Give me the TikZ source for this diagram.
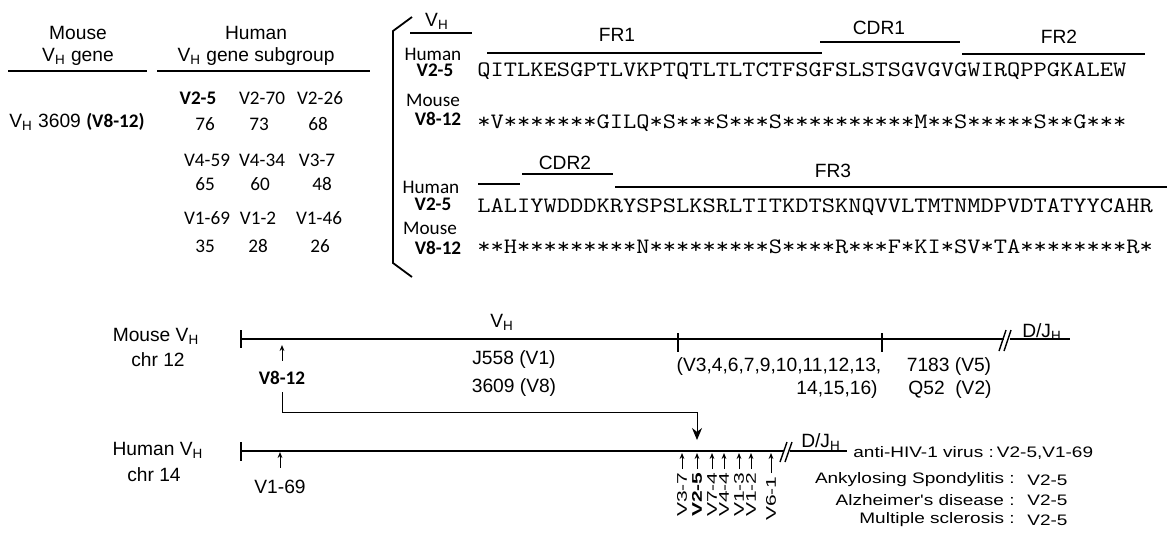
\documentclass[tikz,border=0pt]{standalone}
\usepackage{fontspec}
\setmainfont{Liberation Sans}
\newfontfamily\calfont{Carlito}
\usetikzlibrary{arrows.meta, positioning}
\newcommand{\VH}{V\textsubscript{H}}
\newcommand{\DJH}{D/J\textsubscript{H}}
\newcommand{\wide}[2][1.25]{\scalebox{#1}[1]{#2}}

\begin{document}
\begin{tikzpicture}[x=0.5pt, y=-0.5pt,
        lbl/.style={font=\fontsize{9.6}{11}\selectfont, inner sep=0pt},
        cal/.style={font=\calfont\fontsize{9.6}{11}\selectfont, inner sep=0pt},
        seq/.style={font=\ttfamily\fontsize{11}{13}\selectfont, inner sep=0pt, anchor=base west},
        dis/.style={font=\fontsize{7.6}{9}\selectfont, inner sep=0pt},
        vlab/.style={font=\fontsize{7}{8}\selectfont, inner sep=0pt, rotate=90, anchor=east},
        rule/.style={line width=0.9pt},
        chrom/.style={line width=1pt},
        tickarr/.style={-{Stealth[length=3pt, width=2.4pt]}, line width=0.5pt},
        bigarr/.style={-{Stealth[length=6pt, width=5pt]}, line width=0.6pt}
    ]
    \useasboundingbox (0,0) rectangle (1172,532);

        % TABLE
        \node[lbl] (mhead) at (78,33) {Mouse};
        \node[lbl] (mgene) at (78,57) {\VH{} gene};
        \node[lbl] (hhead) at (256,33) {Human};
        \node[lbl] (hgene) at (256,57) {\VH{} gene subgroup};
        \draw[rule] (8,71) -- (147,71);
        \draw[rule] (157,71) -- (370,71);
        \node[lbl] (m3609) at (77,122) {\VH{} 3609 {\calfont\bfseries (V8-12)}};

        \node[cal] (g1) at (198,98) {\textbf{V2-5}};
        \node[cal] (g2) at (262,98) {V2-70};
        \node[cal] (g3) at (320,98) {V2-26};
        \node[cal] (p1) at (205,124) {76};
        \node[cal] (p2) at (259,124) {73};
        \node[cal] (p3) at (318,124) {68};
        \node[cal] (g4) at (207,160) {V4-59};
        \node[cal] (g5) at (262,160) {V4-34};
        \node[cal] (g6) at (317,160) {V3-7};
        \node[cal] (p4) at (205,184) {65};
        \node[cal] (p5) at (260,184) {60};
        \node[cal] (p6) at (322,184) {48};
        \node[cal] (g7) at (207,218) {V1-69};
        \node[cal] (g8) at (258,218) {V1-2};
        \node[cal] (g9) at (319,218) {V1-46};
        \node[cal] (p7) at (205,246) {35};
        \node[cal] (p8) at (258,246) {28};
        \node[cal] (p9) at (320,246) {26};

        % ALIGNMENT
        \draw[rule] (412,17) -- (393,31) -- (393,263) -- (412,277);
        \node[lbl] (vhtop) at (437,21) {\VH};
        \draw[rule] (410,33) -- (472,33);
        \node[lbl] (fr1) at (617,35) {FR1};
        \node[lbl] (cdr1) at (879,28) {CDR1};
        \node[lbl] (fr2) at (1059,37) {FR2};
        \draw[rule] (487,53) -- (822,53);
        \draw[rule] (820,42) -- (960,42);
        \draw[rule] (962,54) -- (1145,54);

        \node[cal] (hum1) at (433,54) {Human};
        \node[cal] (hv1) at (435,70) {\textbf{V2-5}};
        \node[cal] (mou1) at (433,100) {Mouse};
        \node[cal] (mv1) at (438,119) {\textbf{V8-12}};
        \node[seq] (hseq1) at (477,76) {\wide[1.169]{QITLKESGPTLVKPTQTLTLTCTFSGFSLSTSGVGVGWIRQPPGKALEW}};
        \node[seq] (mseq1) at (477,128) {\wide[1.169]{*V*******GILQ*S***S***S**********M**S*****S**G***}};

        \node[lbl] (cdr2) at (565,163) {CDR2};
        \node[lbl] (fr3) at (833,171) {FR3};
        \draw[rule] (478,184) -- (520,184);
        \draw[rule] (522,174) -- (613,174);
        \draw[rule] (615,187) -- (1167,187);
        \node[cal] (hum2) at (431,187) {Human};
        \node[cal] (hv2) at (433,204) {\textbf{V2-5}};
        \node[cal] (mou2) at (430,228) {Mouse};
        \node[cal] (mv2) at (438,248) {\textbf{V8-12}};
        \node[seq] (hseq2) at (477,212) {\wide[1.169]{LALIYWDDDKRYSPSLKSRLTITKDTSKNQVVLTMTNMDPVDTATYYCAHR}};
        \node[seq] (mseq2) at (477,253) {\wide[1.169]{**H*********N*********S****R***F*KI*SV*TA********R*}};

        % MOUSE CHROMOSOME
        \node[lbl] (mlab) at (156,336) {Mouse \VH};
        \node[lbl] (mchr) at (158,360) {chr 12};
        \coordinate (ms) at (241,339);
        \coordinate (mb) at (1004,339);
        \coordinate (me) at (1070,339);
        \draw[chrom] (ms) -- (mb) ++(6,0) -- (me);
        \draw[chrom] (241,330) -- (241,348);
        \draw[chrom] (678,333) -- (678,352);
        \draw[chrom] (882,333) -- (882,352);
        \draw[line width=0.7pt] (999,351) -- (1006,330) (1004,351) -- (1011,330);
        \node[lbl] (mvh) at (502,322) {\VH};
        \node[lbl] (mdj) at (1042,332) {\DJH};
        \node[lbl] (j558) at (514,360) {J558 (V1)};
        \node[lbl] (s3609) at (514,388) {3609 (V8)};
        \node[lbl] (vfam) at (779,367) {(V3,4,6,7,9,10,11,12,13,};
        \node[lbl, anchor=east] (vfam2) at (878,390) {14,15,16)};
        \node[lbl] (s7183) at (949,367) {7183 (V5)};
        \node[lbl] (q52) at (950,390) {Q52\ \ (V2)};
        \node[cal] (v812) at (282,378) {\textbf{V8-12}};
        \draw[tickarr, shorten <=5pt, shorten >=3pt] (v812.north) -- (v812.north |- ms);

        % HUMAN CHROMOSOME
        \node[lbl] (hlab) at (158,450) {Human \VH};
        \node[lbl] (hchr) at (154,475) {chr 14};
        \coordinate (hs) at (241,451);
        \coordinate (hb) at (784,451);
        \coordinate (he) at (847,451);
        \draw[chrom] (hs) -- (hb) ++(6,0) -- (he);
        \draw[chrom] (241,442) -- (241,461);
        \draw[line width=0.7pt] (780,462) -- (787,442) (785,462) -- (792,442);
        \node[lbl] (hdj) at (821,442) {\DJH};
        \node[lbl] (v169) at (280,487) {V1-69};
        \draw[tickarr, shorten <=6pt, shorten >=0.5pt] (v169.north) -- (v169.north |- hs);

        \node[vlab] (v37) at (682,472) {\wide[1.5]{V3-7}};
        \node[vlab] (v25) at (697,472) {\wide[1.5]{\textbf{V2-5}}};
        \node[vlab] (v74) at (712,472) {\wide[1.5]{V7-4}};
        \node[vlab] (v44) at (724,472) {\wide[1.5]{V4-4}};
        \node[vlab] (v13) at (739,472) {\wide[1.5]{V1-3}};
        \node[vlab] (v12) at (751,472) {\wide[1.5]{V1-2}};
        \node[vlab] (v61) at (771,476) {\wide[1.5]{V6-1}};
        \foreach \g in {v37,v25,v74,v44,v13,v12,v61}
            \draw[tickarr, shorten <=1.5pt, shorten >=1pt] (\g.east) -- (\g.east |- hs);

        % LINK
        \coordinate (bend) at (697,412);
        \draw[bigarr, line width=0.5pt, shorten <=3.5pt, shorten >=5.5pt] (v812.south) -- (v812.south |- bend) -- (bend) -- (bend |- hs);

        % DISEASES
        \node[dis, anchor=west] (hiv) at (853,453) {\wide{anti-HIV-1 virus :\,V2-5,V1-69}};
        \node[dis, anchor=east] (as) at (1015,480) {\wide{Ankylosing Spondylitis :}};
        \node[dis, anchor=west] (asv) at (1027,480) {\wide{V2-5}};
        \node[dis, anchor=east] (ad) at (1015,500) {\wide{Alzheimer\textquotesingle s disease :}};
        \node[dis, anchor=west] (adv) at (1027,500) {\wide{V2-5}};
        \node[dis, anchor=east] (ms1) at (1015,520) {\wide{Multiple sclerosis :}};
        \node[dis, anchor=west] (msv) at (1027,520) {\wide{V2-5}};
    \end{tikzpicture}
\end{document}
